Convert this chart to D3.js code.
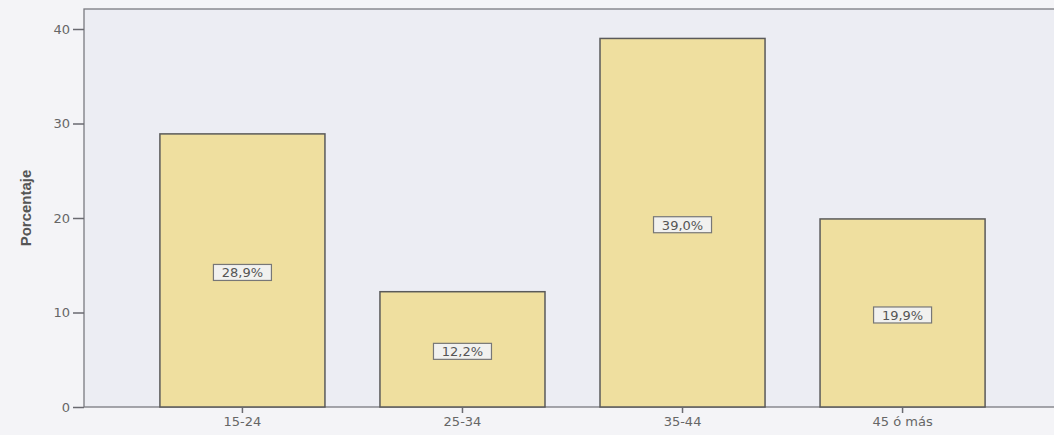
<!DOCTYPE html>
<html>
<head>
<meta charset="utf-8">
<script src="https://cdn.jsdelivr.net/npm/d3@7"></script>
<style>
  body { margin: 0; background: #f4f4f7; }
  svg { display: block; }
</style>
</head>
<body>
<div id="chart"></div>
<script>
// edad en grupos, porcentaje
var categories = ["15-24", "25-34", "35-44", "45 ó más"];
var values = [28.9, 12.2, 39.0, 19.9];
var labels = ["28,9%", "12,2%", "39,0%", "19,9%"];
var yTicks = [0, 10, 20, 30, 40];

var w = 1054,
	h = 435;

var plot = { left: 84, top: 9, right: 1061, bottom: 407 };

var svg = d3.select("#chart")
	.append("svg")
	.attr("width", w)
	.attr("height", h);

svg.append("rect")
	.attr("width", w)
	.attr("height", h)
	.attr("fill", "#f4f4f7");

var x = d3.scaleBand()
	.domain(categories)
	.range([plot.left, plot.right])
	.paddingInner(0.25)
	.paddingOuter(0.345);

var y = d3.scaleLinear()
	.domain([0, 40])
	.range([plot.bottom, 29]);

// plot background
svg.append("rect")
	.attr("x", plot.left)
	.attr("y", plot.top)
	.attr("width", plot.right - plot.left)
	.attr("height", plot.bottom - plot.top)
	.attr("fill", "#ecedf3")
	.attr("stroke", "#7a7a80")
	.attr("stroke-width", 1.3);

// bars
svg.selectAll("rect.bar")
	.data(values)
	.enter()
	.append("rect")
	.classed("bar", true)
	.attr("x", function(d, i) { return x(categories[i]); })
	.attr("y", function(d) { return y(d); })
	.attr("width", x.bandwidth())
	.attr("height", function(d) { return y(0) - y(d); })
	.attr("fill", "#efdf9f")
	.attr("stroke", "#5a5a5a")
	.attr("stroke-width", 1.5);

// value labels
var lab = svg.selectAll("g.lab")
	.data(values)
	.enter()
	.append("g")
	.classed("lab", true)
	.attr("transform", function(d, i) {
		return "translate(" + (x(categories[i]) + x.bandwidth() / 2) + "," + ((y(d) + y(0)) / 2 + 2) + ")";
	});
lab.append("rect")
	.attr("x", -29)
	.attr("y", -8)
	.attr("width", 58)
	.attr("height", 16)
	.attr("fill", "#f1f1ef")
	.attr("stroke", "#777")
	.attr("stroke-width", 1.2);
lab.append("text")
	.attr("text-anchor", "middle")
	.attr("dy", "0.37em")
	.style("font-family", "DejaVu Sans, sans-serif")
	.style("font-size", "13px")
	.attr("fill", "#555")
	.text(function(d, i) { return labels[i]; });

// y axis
var yAxis = svg.append("g")
	.attr("transform", "translate(" + plot.left + ",0)")
	.call(d3.axisLeft(y).tickValues(yTicks).tickSize(11).tickPadding(3));
yAxis.select(".domain").remove();
yAxis.selectAll("line").attr("stroke", "#6a6a70").attr("stroke-width", 1.5);
yAxis.selectAll("text")
	.style("font-family", "DejaVu Sans, sans-serif")
	.style("font-size", "13px")
	.attr("fill", "#666");

// x axis
var xAxis = svg.append("g")
	.attr("transform", "translate(0," + plot.bottom + ")")
	.call(d3.axisBottom(x).tickSize(6).tickPadding(4));
xAxis.select(".domain").remove();
xAxis.selectAll("line").attr("stroke", "#6a6a70").attr("stroke-width", 1.5);
xAxis.selectAll("text")
	.style("font-family", "DejaVu Sans, sans-serif")
	.style("font-size", "13px")
	.attr("fill", "#666");

// y title
svg.append("text")
	.attr("transform", "translate(31,208) rotate(-90)")
	.attr("text-anchor", "middle")
	.style("font-family", "Liberation Sans Narrow, Liberation Sans, sans-serif")
	.style("font-weight", "bold")
	.style("font-size", "15px")
	.attr("fill", "#555")
	.text("Porcentaje");
</script>
</body>
</html>
